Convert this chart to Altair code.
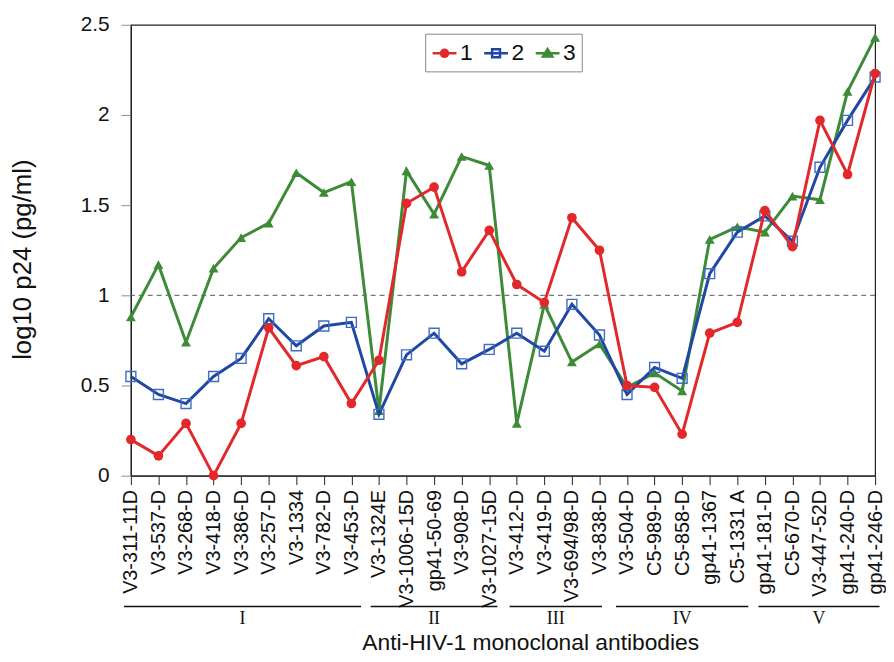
import json
import altair as alt
import pandas as pd

# ---------------- data ----------------
antibodies = [
    "V3-311-11D", "V3-537-D", "V3-268-D", "V3-418-D", "V3-386-D", "V3-257-D",
    "V3-1334", "V3-782-D", "V3-453-D",
    "V3-1324E", "V3-1006-15D", "gp41-50-69", "V3-908-D", "V3-1027-15D",
    "V3-412-D", "V3-419-D", "V3-694/98-D", "V3-838-D",
    "V3-504-D", "C5-989-D", "C5-858-D", "gp41-1367", "C5-1331 A",
    "gp41-181-D", "C5-670-D", "V3-447-52D", "gp41-240-D", "gp41-246-D",
]
series1 = [0.20, 0.11, 0.29, 0.00, 0.29, 0.82, 0.61, 0.66, 0.40,
           0.64, 1.51, 1.60, 1.13, 1.36,
           1.06, 0.96, 1.43, 1.25,
           0.50, 0.49, 0.23, 0.79, 0.85,
           1.47, 1.27, 1.97, 1.67, 2.23]
series2 = [0.55, 0.45, 0.40, 0.55, 0.65, 0.87, 0.72, 0.83, 0.85,
           0.34, 0.67, 0.79, 0.62, 0.70,
           0.79, 0.69, 0.95, 0.78,
           0.45, 0.60, 0.54, 1.12, 1.35,
           1.44, 1.30, 1.71, 1.97, 2.21]
series3 = [0.88, 1.17, 0.74, 1.15, 1.32, 1.40, 1.68, 1.57, 1.63,
           0.36, 1.69, 1.45, 1.77, 1.72,
           0.29, 0.95, 0.63, 0.73,
           0.49, 0.57, 0.47, 1.31, 1.38,
           1.35, 1.55, 1.53, 2.13, 2.43]
series_names = ["1", "2", "3"]
threshold = 1.0

group_names = ["I", "II", "III", "IV", "V"]
group_lo = [-0.25, 8.7, 13.74, 17.6, 22.77]
group_hi = [8.35, 13.3, 17.09, 22.4, 27.16]

# ---------------- styles ----------------
line_colors = ["#e2282a", "#1f47a3", "#3d8b37"]
marker_colors = ["#e2282a", "#3f6cc0", "#3d8b37"]
marker_shapes = ["circle", "square", "triangle-up"]
marker_filled = [True, False, True]
marker_sizes = [95, 100, 100]
legend_fill = ["#e2282a", "transparent", "#3d8b37"]
legend_paths = [
    "M-1,0H1M-0.3,0A0.3,0.3,0,1,1,0.3,0A0.3,0.3,0,1,1,-0.3,0Z",
    "M-1,0H1M-0.33,-0.33H0.33V0.33H-0.33Z",
    "M-1,0H1M-0.4,0.28L0,-0.36L0.4,0.28Z",
]

rows = []
for name, vals in zip(series_names, [series1, series2, series3]):
    for i, (ab, v) in enumerate(zip(antibodies, vals)):
        rows.append({"idx": i, "antibody": ab, "s": name, "v": v})
df = pd.DataFrame(rows)
groups = pd.DataFrame({"g": group_names, "lo": group_lo, "hi": group_hi})

W, H = 751, 455
FONT = "Liberation Sans"

label_expr = json.dumps(antibodies) + "[datum.value]"
x_scale = alt.Scale(domain=[0, len(antibodies) - 1], nice=False, zero=False)
x_axis = alt.Axis(
    values=list(range(len(antibodies))),
    labelExpr=label_expr,
    labelAngle=-90,
    labelFontSize=20,
    labelFont=FONT,
    labelColor="#111",
    labelPadding=5,
    labelOverlap=False,
    labelBound=False,
    labelFlush=False,
    tickSize=9,
    tickColor="#222",
    domainColor="#222",
    domainWidth=1.2,
    grid=False,
    title="Anti-HIV-1 monoclonal antibodies",
    titleFont=FONT,
    titleFontSize=23,
    titleFontWeight="normal",
    titleColor="#111",
    titleX=403,
    titleY=175,
    titleBaseline="alphabetic",
    titleAlign="center",
)
x_enc = alt.X("idx:Q", scale=x_scale, axis=x_axis)
y_enc = alt.Y(
    "v:Q",
    scale=alt.Scale(domain=[0, 2.5], nice=False),
    axis=alt.Axis(
        values=[0, 0.5, 1, 1.5, 2, 2.5],
        format=".1~f",
        labelFontSize=21,
        labelFont=FONT,
        labelColor="#111",
        labelPadding=12,
        tickSize=10,
        tickColor="#8090ac",
        domainColor="#222",
        domainWidth=1.2,
        grid=False,
        title="log10 p24 (pg/ml)",
        titleFont=FONT,
        titleFontSize=26,
        titleFontWeight="normal",
        titleColor="#111",
        titleX=-122,
        titleY=H / 2 + 9,
        titleBaseline="top",
        titleAlign="center",
        titleAngle=-90,
    ),
)

base = alt.Chart(df)

dash = alt.Chart(pd.DataFrame({"t": [threshold]})).mark_rule(
    color="#555", strokeDash=[5, 4], strokeWidth=1
).encode(y=alt.Y("t:Q"))

layers = [dash]
for k in [2, 1, 0]:
    sub = base.transform_filter(alt.datum.s == series_names[k])
    line = sub.mark_line(color=line_colors[k], strokeWidth=3).encode(x=x_enc, y=y_enc)
    pts = sub.mark_point(
        shape=marker_shapes[k],
        filled=marker_filled[k],
        color=marker_colors[k],
        size=marker_sizes[k],
        strokeWidth=1.4,
        opacity=1,
    ).encode(x=x_enc, y=y_enc)
    layers += [line, pts]

leg = alt.Legend(
    title=None,
    orient="none",
    legendX=297,
    legendY=9,
    direction="horizontal",
    symbolSize=576,
    symbolStrokeWidth=2.5,
    labelFontSize=23,
    labelFont=FONT,
    labelColor="#111",
    labelOffset=2,
    columnPadding=6,
    padding=6,
    strokeColor="#888",
    fillColor="white",
)
legend_layer = base.transform_filter("false").mark_point(opacity=1, filled=True).encode(
    x=x_enc,
    y=y_enc,
    shape=alt.Shape("s:N", scale=alt.Scale(domain=series_names, range=legend_paths), legend=leg),
    fill=alt.Fill("s:N", scale=alt.Scale(domain=series_names, range=legend_fill), legend=leg),
    stroke=alt.Stroke("s:N", scale=alt.Scale(domain=series_names, range=line_colors), legend=leg),
)
layers.append(legend_layer)

group_rules = alt.Chart(groups).mark_rule(color="#111", strokeWidth=1.3).encode(
    x=alt.X("lo:Q", scale=x_scale, axis=x_axis), x2="hi:Q", y=alt.value(587)
)
group_text = alt.Chart(groups).transform_calculate(mid="(datum.lo + datum.hi) / 2").mark_text(
    font="Liberation Serif", fontSize=18, color="#111", baseline="middle"
).encode(x=alt.X("mid:Q", scale=x_scale, axis=x_axis), y=alt.value(600), text="g:N")
layers += [group_rules, group_text]

chart = alt.layer(*layers).properties(
    width=W,
    height=H,
    autosize=alt.AutoSizeParams(type="none"),
    padding={"left": 124, "top": 14, "right": 11, "bottom": 177},
    background="white",
).configure_view(stroke="#222", strokeWidth=1.2)

chart.save("out.html", embed_options={"renderer": "svg", "actions": False})
